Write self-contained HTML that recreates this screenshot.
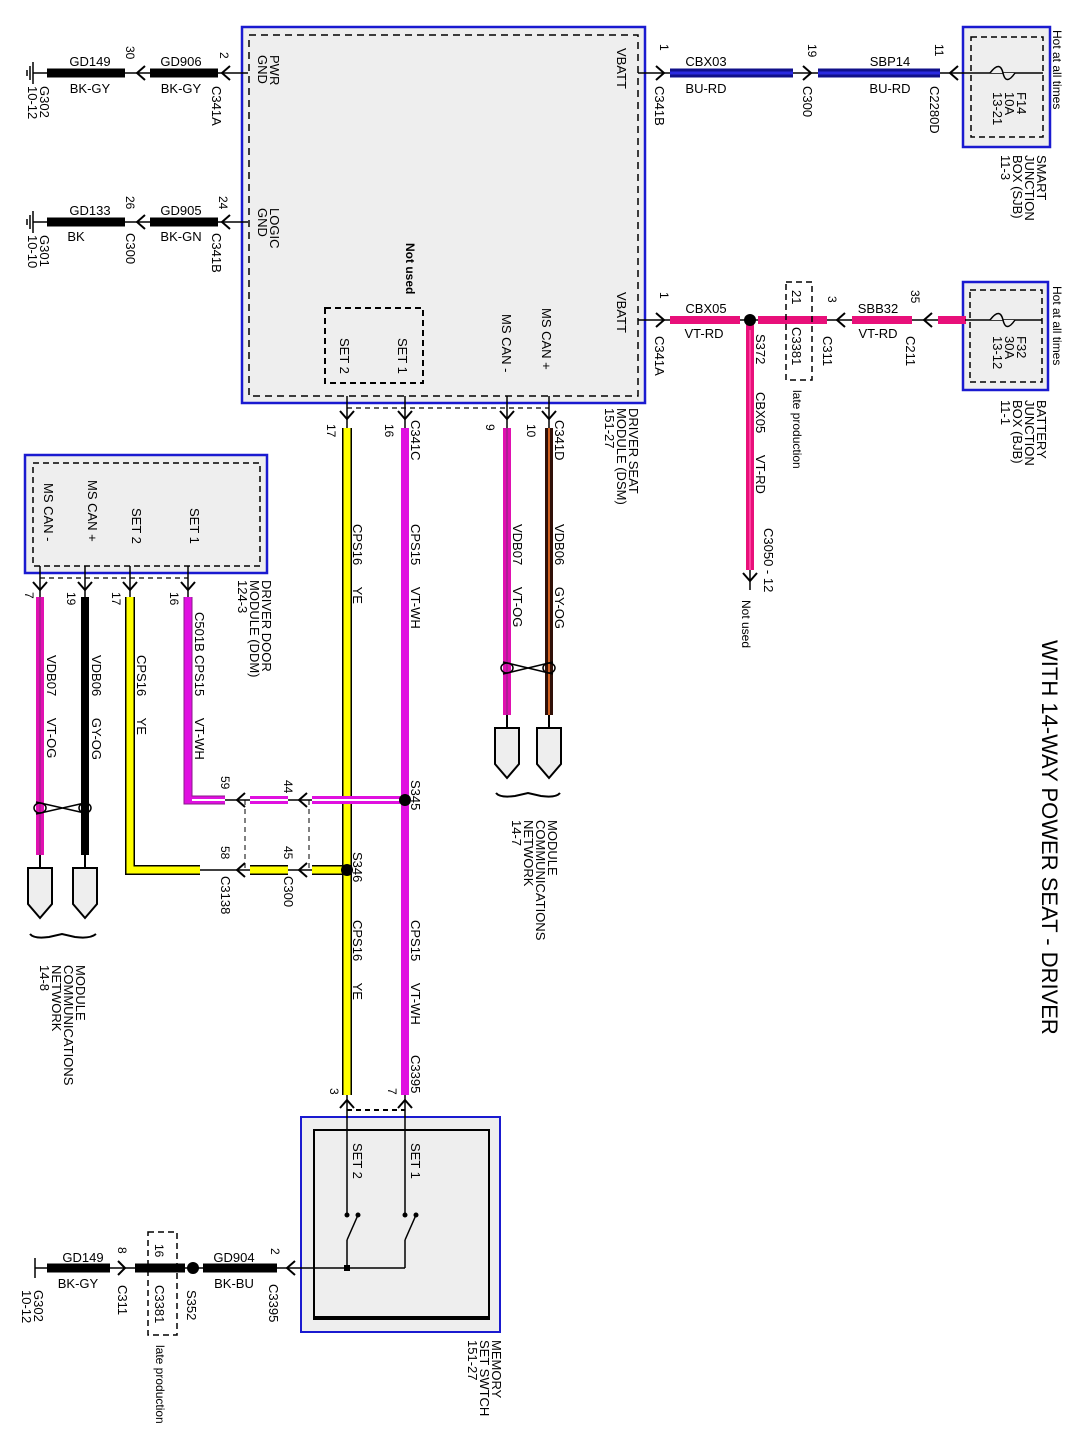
<!DOCTYPE html>
<html><head><meta charset="utf-8"><style>
html,body{margin:0;padding:0;background:#fff}
svg{display:block}
text{font-family:"Liberation Sans",Arial,sans-serif;font-size:13px;fill:#000;white-space:pre}
.s{font-size:12px}
.n{font-size:12px}
.ch{fill:none;stroke:#000;stroke-width:2}
</style></head><body>
<svg width="1078" height="1452" viewBox="0 0 1078 1452" xmlns="http://www.w3.org/2000/svg" xml:space="preserve">
<!-- DSM box -->
<rect x="242" y="27" width="403" height="376" fill="#eeeeee" stroke="#1a1ad0" stroke-width="2.5"/>
<rect x="249" y="35" width="389" height="361" fill="none" stroke="#000" stroke-width="1.5" stroke-dasharray="7,5"/>
<rect x="325" y="308" width="98" height="75" fill="none" stroke="#000" stroke-width="2" stroke-dasharray="6,4"/>

<!-- SJB / BJB -->
<rect x="963" y="27" width="87" height="120" fill="#eeeeee" stroke="#1a1ad0" stroke-width="2.5"/>
<rect x="971" y="37" width="72" height="100" fill="none" stroke="#000" stroke-width="1.5" stroke-dasharray="6,4"/>
<rect x="963" y="282" width="85" height="108" fill="#eeeeee" stroke="#1a1ad0" stroke-width="2.5"/>
<rect x="970" y="290" width="72" height="92" fill="none" stroke="#000" stroke-width="1.5" stroke-dasharray="6,4"/>

<!-- DDM box -->
<rect x="25" y="455" width="242" height="118" fill="#eeeeee" stroke="#1a1ad0" stroke-width="2.5"/>
<rect x="33" y="463" width="227" height="103" fill="none" stroke="#000" stroke-width="1.5" stroke-dasharray="6,4"/>

<!-- Memory switch -->
<rect x="301" y="1117" width="199" height="215" fill="#eeeeee" stroke="#1a1ad0" stroke-width="2"/>
<rect x="314" y="1130" width="175" height="189" fill="none" stroke="#000" stroke-width="2"/>
<line x1="314" y1="1318" x2="489" y2="1318" stroke="#000" stroke-width="4"/>

<!-- ===== top-left ground wires ===== -->
<g stroke="#000">
<line x1="33" y1="73" x2="248" y2="73" stroke-width="1.5"/>
<line x1="47" y1="73" x2="125" y2="73" stroke-width="9"/>
<line x1="150" y1="73" x2="218" y2="73" stroke-width="9"/>
<line x1="33" y1="62" x2="33" y2="84" stroke-width="1.5"/>
<line x1="30" y1="66" x2="30" y2="80" stroke-width="1.5"/>
<line x1="27" y1="70" x2="27" y2="76" stroke-width="1.5"/>
<line x1="33" y1="222" x2="248" y2="222" stroke-width="1.5"/>
<line x1="47" y1="222" x2="125" y2="222" stroke-width="9"/>
<line x1="150" y1="222" x2="218" y2="222" stroke-width="9"/>
<line x1="33" y1="211" x2="33" y2="233" stroke-width="1.5"/>
<line x1="30" y1="215" x2="30" y2="229" stroke-width="1.5"/>
<line x1="27" y1="219" x2="27" y2="225" stroke-width="1.5"/>
</g>
<path class="ch" d="M145 66 L137 73 L145 80 M230 66 L222 73 L230 80 M145 215 L137 222 L145 229 M230 215 L222 222 L230 229"/>

<!-- ===== top-right VBATT wire ===== -->
<line x1="638" y1="73" x2="965" y2="73" stroke="#000" stroke-width="1.5"/>
<line x1="670" y1="73" x2="793" y2="73" stroke="#10108a" stroke-width="9"/>
<line x1="670" y1="73" x2="793" y2="73" stroke="#2a2ae0" stroke-width="3"/>
<line x1="818" y1="73" x2="940" y2="73" stroke="#10108a" stroke-width="9"/>
<line x1="818" y1="73" x2="940" y2="73" stroke="#2a2ae0" stroke-width="3"/>
<path class="ch" d="M656 66 L664 73 L656 80 M803 66 L811 73 L803 80 M958 66 L950 73 L958 80"/>
<line x1="965" y1="73" x2="1043" y2="73" stroke="#000" stroke-width="1.5"/>
<path d="M990 73 Q1000 60 1003 73 Q1006 86 1015 73" fill="#eeeeee" stroke="#000" stroke-width="1.5"/>

<!-- ===== second VBATT wire ===== -->
<line x1="638" y1="320" x2="965" y2="320" stroke="#000" stroke-width="1.5"/>
<g stroke="#e8107a" stroke-width="8">
<line x1="670" y1="320" x2="740" y2="320"/>
<line x1="758" y1="320" x2="827" y2="320"/>
<line x1="852" y1="320" x2="912" y2="320"/>
<line x1="938" y1="320" x2="966" y2="320"/>
<line x1="750" y1="320" x2="750" y2="570"/>
</g>
<line x1="750" y1="330" x2="750" y2="570" stroke="#ff40a0" stroke-width="2"/>
<circle cx="750" cy="320" r="6" fill="#000"/>
<rect x="786" y="282" width="26" height="98" fill="none" stroke="#000" stroke-width="1.5" stroke-dasharray="6,4"/>
<path class="ch" d="M656 313 L664 320 L656 327 M845 313 L837 320 L845 327 M932 313 L924 320 L932 327"/>
<line x1="965" y1="320" x2="1042" y2="320" stroke="#000" stroke-width="1.5"/>
<path d="M990 320 Q1000 307 1003 320 Q1006 333 1015 320" fill="#eeeeee" stroke="#000" stroke-width="1.5"/>
<line x1="750" y1="570" x2="750" y2="590" stroke="#000" stroke-width="1.5"/>
<path class="ch" d="M743 573 L750 581 L757 573"/>

<!-- ===== DSM bottom pins ===== -->
<g stroke="#000" stroke-width="1.5">
<line x1="347" y1="396" x2="347" y2="430"/>
<line x1="405" y1="396" x2="405" y2="430"/>
<line x1="507" y1="396" x2="507" y2="430"/>
<line x1="549" y1="396" x2="549" y2="430"/>
</g>
<path d="M347 408 H549" stroke="#000" stroke-width="1.2" stroke-dasharray="5,4" fill="none"/>
<path class="ch" d="M340 411 L347 419 L354 411 M398 411 L405 419 L412 411 M500 411 L507 419 L514 411 M542 411 L549 419 L556 411"/>

<line x1="347" y1="428" x2="347" y2="1095" stroke="#000" stroke-width="10"/>
<line x1="347" y1="428" x2="347" y2="1095" stroke="#ffff00" stroke-width="7"/>
<line x1="405" y1="428" x2="405" y2="1095" stroke="#e010e0" stroke-width="8"/>
<line x1="507" y1="428" x2="507" y2="715" stroke="#e010b0" stroke-width="8"/>
<line x1="507" y1="428" x2="507" y2="715" stroke="#a0208a" stroke-width="1.5"/>
<line x1="549" y1="428" x2="549" y2="715" stroke="#301008" stroke-width="8"/>
<line x1="549" y1="428" x2="549" y2="715" stroke="#d06020" stroke-width="2"/>
<path d="M503 662 L553 674 M503 674 L553 662" stroke="#000" stroke-width="1.5" fill="none"/>
<ellipse cx="507" cy="668" rx="6" ry="5" fill="none" stroke="#000" stroke-width="1.5"/>
<ellipse cx="549" cy="668" rx="6" ry="5" fill="none" stroke="#000" stroke-width="1.5"/>
<g fill="#eeeeee" stroke="#000" stroke-width="2">
<line x1="507" y1="715" x2="507" y2="728"/><line x1="549" y1="715" x2="549" y2="728"/>
<path d="M495 728 H519 V764 L507 778 L495 764 Z"/>
<path d="M537 728 H561 V764 L549 778 L537 764 Z"/>
</g>
<path d="M496 793 Q500 798 515 796 L528 793 L541 796 Q556 798 560 793" fill="none" stroke="#000" stroke-width="2"/>

<!-- ===== DDM wires ===== -->
<g stroke="#000" stroke-width="1.5">
<line x1="40" y1="566" x2="40" y2="598"/>
<line x1="85" y1="566" x2="85" y2="598"/>
<line x1="130" y1="566" x2="130" y2="598"/>
<line x1="188" y1="566" x2="188" y2="598"/>
</g>
<path d="M40 578 H188" stroke="#000" stroke-width="1.2" stroke-dasharray="5,4" fill="none"/>
<path class="ch" d="M33 582 L40 590 L47 582 M78 582 L85 590 L92 582 M123 582 L130 590 L137 582 M181 582 L188 590 L195 582"/>
<line x1="40" y1="597" x2="40" y2="855" stroke="#e010b0" stroke-width="8"/>
<line x1="40" y1="597" x2="40" y2="855" stroke="#a0208a" stroke-width="1.5"/>
<line x1="85" y1="597" x2="85" y2="855" stroke="#000" stroke-width="8"/>
<path d="M36 802 L89 814 M36 814 L89 802" stroke="#000" stroke-width="1.5" fill="none"/>
<ellipse cx="40" cy="808" rx="6" ry="5" fill="none" stroke="#000" stroke-width="1.5"/>
<ellipse cx="85" cy="808" rx="6" ry="5" fill="none" stroke="#000" stroke-width="1.5"/>
<g fill="#eeeeee" stroke="#000" stroke-width="2">
<line x1="40" y1="855" x2="40" y2="868"/><line x1="85" y1="855" x2="85" y2="868"/>
<path d="M28 868 H52 V904 L40 918 L28 904 Z"/>
<path d="M73 868 H97 V904 L85 918 L73 904 Z"/>
</g>
<path d="M30 934 Q34 939 49 937 L62 934 L75 937 Q90 939 96 934" fill="none" stroke="#000" stroke-width="2"/>

<path d="M130 597 V870 H200" fill="none" stroke="#000" stroke-width="10"/>
<path d="M130 597 V870 H200" fill="none" stroke="#ffff00" stroke-width="7"/>
<line x1="250" y1="870" x2="288" y2="870" stroke="#000" stroke-width="10"/>
<line x1="250" y1="870" x2="288" y2="870" stroke="#ffff00" stroke-width="7"/>
<line x1="312" y1="870" x2="347" y2="870" stroke="#000" stroke-width="10"/>
<line x1="312" y1="870" x2="347" y2="870" stroke="#ffff00" stroke-width="7"/>
<line x1="200" y1="870" x2="250" y2="870" stroke="#000" stroke-width="1.5"/>
<line x1="288" y1="870" x2="312" y2="870" stroke="#000" stroke-width="1.5"/>
<path d="M188 597 V800 H225" fill="none" stroke="#8a1a8a" stroke-width="9"/>
<path d="M188 597 V800 H225" fill="none" stroke="#e010e0" stroke-width="7"/>
<line x1="192" y1="800" x2="225" y2="800" stroke="#fff" stroke-width="2"/>
<line x1="250" y1="800" x2="288" y2="800" stroke="#e010e0" stroke-width="8"/>
<line x1="250" y1="800" x2="288" y2="800" stroke="#fff" stroke-width="2"/>
<line x1="312" y1="800" x2="400" y2="800" stroke="#e010e0" stroke-width="8"/>
<line x1="312" y1="800" x2="400" y2="800" stroke="#fff" stroke-width="2"/>
<line x1="225" y1="800" x2="250" y2="800" stroke="#000" stroke-width="1.5"/>
<line x1="288" y1="800" x2="312" y2="800" stroke="#000" stroke-width="1.5"/>
<path class="ch" d="M245 793 L237 800 L245 807 M307 793 L299 800 L307 807 M245 863 L237 870 L245 877 M307 863 L299 870 L307 877"/>
<path d="M245 800 V870 M309 800 V870" stroke="#000" stroke-width="1" stroke-dasharray="5,4"/>
<circle cx="405" cy="800" r="6" fill="#000"/>
<circle cx="347" cy="870" r="6" fill="#000"/>

<!-- ===== Memory switch wiring ===== -->
<g stroke="#000" stroke-width="1.5" fill="none">
<line x1="347" y1="1095" x2="347" y2="1215"/>
<line x1="405" y1="1095" x2="405" y2="1215"/>
<path d="M347 1110 H405" stroke-dasharray="5,4" stroke-width="2"/>
<line x1="347" y1="1240" x2="347" y2="1268"/>
<line x1="405" y1="1240" x2="405" y2="1268"/>
<line x1="290" y1="1268" x2="405" y2="1268"/>
<line x1="347" y1="1240" x2="358" y2="1215"/>
<line x1="405" y1="1240" x2="416" y2="1215"/>
</g>
<path class="ch" d="M340 1108 L347 1100 L354 1108 M398 1108 L405 1100 L412 1108"/>
<g fill="#000">
<circle cx="347" cy="1215" r="2.5"/><circle cx="358" cy="1215" r="2.5"/>
<circle cx="405" cy="1215" r="2.5"/><circle cx="416" cy="1215" r="2.5"/>
<rect x="344" y="1265" width="6" height="6"/>
</g>
<g stroke="#000">
<line x1="35" y1="1268" x2="290" y2="1268" stroke-width="1.5"/>
<line x1="47" y1="1268" x2="110" y2="1268" stroke-width="9"/>
<line x1="135" y1="1268" x2="185" y2="1268" stroke-width="9"/>
<line x1="203" y1="1268" x2="277" y2="1268" stroke-width="9"/>
<line x1="35" y1="1258" x2="35" y2="1278" stroke-width="1.5"/>
</g>
<circle cx="193" cy="1268" r="6" fill="#000"/>
<rect x="148" y="1232" width="29" height="103" fill="none" stroke="#000" stroke-width="1.5" stroke-dasharray="6,4"/>
<path class="ch" d="M118 1261 L125 1268 L118 1275 M295 1261 L287 1268 L295 1275"/>

<!-- ===== horizontal wire labels ===== -->
<g text-anchor="middle">
<text x="90" y="66">GD149</text><text x="90" y="93">BK-GY</text>
<text x="181" y="66">GD906</text><text x="181" y="93">BK-GY</text>
<text x="90" y="215">GD133</text><text x="76" y="241">BK</text>
<text x="181" y="215">GD905</text><text x="181" y="241">BK-GN</text>
<text x="706" y="66">CBX03</text><text x="706" y="93">BU-RD</text>
<text x="890" y="66">SBP14</text><text x="890" y="93">BU-RD</text>
<text x="706" y="313">CBX05</text><text x="704" y="338">VT-RD</text>
<text x="878" y="313">SBB32</text><text x="878" y="338">VT-RD</text>
<text x="83" y="1262">GD149</text><text x="78" y="1288">BK-GY</text>
<text x="234" y="1262">GD904</text><text x="234" y="1288">BK-BU</text>
</g>

<!-- ===== rotated labels ===== -->
<g>
<text transform="translate(126,46) rotate(90)" class="n">30</text>
<text transform="translate(220,52) rotate(90)" class="n">2</text>
<text transform="translate(212,86) rotate(90)">C341A</text>
<text transform="translate(40,86) rotate(90)">G302</text>
<text transform="translate(28,86) rotate(90)">10-12</text>
<text transform="translate(270,55) rotate(90)">PWR</text>
<text transform="translate(258,55) rotate(90)">GND</text>
<text transform="translate(126,196) rotate(90)" class="n">26</text>
<text transform="translate(219,196) rotate(90)" class="n">24</text>
<text transform="translate(126,233) rotate(90)">C300</text>
<text transform="translate(212,233) rotate(90)">C341B</text>
<text transform="translate(40,235) rotate(90)">G301</text>
<text transform="translate(28,235) rotate(90)">10-10</text>
<text transform="translate(270,208) rotate(90)">LOGIC</text>
<text transform="translate(258,208) rotate(90)">GND</text>
<text transform="translate(406,243) rotate(90)" style="font-weight:bold" class="s">Not used</text>
<text transform="translate(398,338) rotate(90)">SET 1</text>
<text transform="translate(340,338) rotate(90)">SET 2</text>
<text transform="translate(542,308) rotate(90)">MS CAN +</text>
<text transform="translate(502,314) rotate(90)">MS CAN -</text>
<text transform="translate(617,48) rotate(90)">VBATT</text>
<text transform="translate(617,292) rotate(90)">VBATT</text>
<text transform="translate(660,44) rotate(90)" class="n">1</text>
<text transform="translate(655,86) rotate(90)">C341B</text>
<text transform="translate(808,44) rotate(90)" class="n">19</text>
<text transform="translate(803,86) rotate(90)">C300</text>
<text transform="translate(935,44) rotate(90)" class="n">11</text>
<text transform="translate(930,86) rotate(90)">C2280D</text>
<text transform="translate(1017,92) rotate(90)">F14</text>
<text transform="translate(1005,92) rotate(90)">10A</text>
<text transform="translate(993,92) rotate(90)">13-21</text>
<text transform="translate(1053,30) rotate(90)" class="s">Hot at all times</text>
<text transform="translate(1037,155) rotate(90)">SMART</text>
<text transform="translate(1025,155) rotate(90)">JUNCTION</text>
<text transform="translate(1013,155) rotate(90)">BOX (SJB)</text>
<text transform="translate(1001,155) rotate(90)">11-3</text>
<text transform="translate(660,292) rotate(90)" class="n">1</text>
<text transform="translate(655,336) rotate(90)">C341A</text>
<text transform="translate(756,334) rotate(90)">S372</text>
<text transform="translate(792,290) rotate(90)">21</text>
<text transform="translate(792,327) rotate(90)">C3381</text>
<text transform="translate(828,296) rotate(90)" class="n">3</text>
<text transform="translate(823,336) rotate(90)">C311</text>
<text transform="translate(911,290) rotate(90)" class="n">35</text>
<text transform="translate(906,336) rotate(90)">C211</text>
<text transform="translate(1017,336) rotate(90)">F32</text>
<text transform="translate(1005,336) rotate(90)">30A</text>
<text transform="translate(993,336) rotate(90)">13-12</text>
<text transform="translate(1053,286) rotate(90)" class="s">Hot at all times</text>
<text transform="translate(1037,400) rotate(90)">BATTERY</text>
<text transform="translate(1025,400) rotate(90)">JUNCTION</text>
<text transform="translate(1013,400) rotate(90)">BOX (BJB)</text>
<text transform="translate(1001,400) rotate(90)">11-1</text>
<text transform="translate(793,390) rotate(90)" class="s">late production</text>
<text transform="translate(756,392) rotate(90)">CBX05      VT-RD</text>
<text transform="translate(764,528) rotate(90)">C3050 - 12</text>
<text transform="translate(742,600) rotate(90)" class="s">Not used</text>
<text transform="translate(629,408) rotate(90)">DRIVER SEAT</text>
<text transform="translate(617,408) rotate(90)">MODULE (DSM)</text>
<text transform="translate(605,408) rotate(90)">151-27</text>
<text transform="translate(555,420) rotate(90)">C341D</text>
<text transform="translate(527,424) rotate(90)" class="n">10</text>
<text transform="translate(486,424) rotate(90)" class="n">9</text>
<text transform="translate(411,420) rotate(90)">C341C</text>
<text transform="translate(385,424) rotate(90)" class="n">16</text>
<text transform="translate(327,424) rotate(90)" class="n">17</text>
<text transform="translate(555,524) rotate(90)">VDB06      GY-OG</text>
<text transform="translate(513,524) rotate(90)">VDB07      VT-OG</text>
<text transform="translate(411,524) rotate(90)">CPS15      VT-WH</text>
<text transform="translate(353,524) rotate(90)">CPS16      YE</text>
<text transform="translate(548,820) rotate(90)">MODULE</text>
<text transform="translate(536,820) rotate(90)">COMMUNICATIONS</text>
<text transform="translate(524,820) rotate(90)">NETWORK</text>
<text transform="translate(512,820) rotate(90)">14-7</text>
<text transform="translate(411,780) rotate(90)">S345</text>
<text transform="translate(353,852) rotate(90)">S346</text>
<text transform="translate(221,776) rotate(90)" class="n">59</text>
<text transform="translate(284,780) rotate(90)" class="n">44</text>
<text transform="translate(221,846) rotate(90)" class="n">58</text>
<text transform="translate(284,846) rotate(90)" class="n">45</text>
<text transform="translate(221,876) rotate(90)">C3138</text>
<text transform="translate(284,876) rotate(90)">C300</text>
<text transform="translate(411,920) rotate(90)">CPS15      VT-WH</text>
<text transform="translate(353,920) rotate(90)">CPS16      YE</text>
<text transform="translate(411,1055) rotate(90)">C3395</text>
<text transform="translate(388,1088) rotate(90)" class="n">7</text>
<text transform="translate(330,1088) rotate(90)" class="n">3</text>
<text transform="translate(411,1143) rotate(90)">SET 1</text>
<text transform="translate(353,1143) rotate(90)">SET 2</text>
<text transform="translate(271,1248) rotate(90)" class="n">2</text>
<text transform="translate(269,1284) rotate(90)">C3395</text>
<text transform="translate(187,1290) rotate(90)">S352</text>
<text transform="translate(155,1244) rotate(90)" class="n">16</text>
<text transform="translate(155,1285) rotate(90)">C3381</text>
<text transform="translate(118,1247) rotate(90)" class="n">8</text>
<text transform="translate(118,1285) rotate(90)">C311</text>
<text transform="translate(34,1290) rotate(90)">G302</text>
<text transform="translate(22,1290) rotate(90)">10-12</text>
<text transform="translate(156,1345) rotate(90)" class="s">late production</text>
<text transform="translate(492,1340) rotate(90)">MEMORY</text>
<text transform="translate(480,1340) rotate(90)">SET SWTCH</text>
<text transform="translate(468,1340) rotate(90)">151-27</text>
<text transform="translate(44,483) rotate(90)">MS CAN -</text>
<text transform="translate(88,480) rotate(90)">MS CAN +</text>
<text transform="translate(132,508) rotate(90)">SET 2</text>
<text transform="translate(190,508) rotate(90)">SET 1</text>
<text transform="translate(262,580) rotate(90)">DRIVER DOOR</text>
<text transform="translate(250,580) rotate(90)">MODULE (DDM)</text>
<text transform="translate(238,580) rotate(90)">124-3</text>
<text transform="translate(170,592) rotate(90)" class="n">16</text>
<text transform="translate(195,612) rotate(90)">C501B</text>
<text transform="translate(112,592) rotate(90)" class="n">17</text>
<text transform="translate(67,592) rotate(90)" class="n">19</text>
<text transform="translate(25,592) rotate(90)" class="n">7</text>
<text transform="translate(195,655) rotate(90)">CPS15      VT-WH</text>
<text transform="translate(137,655) rotate(90)">CPS16      YE</text>
<text transform="translate(92,655) rotate(90)">VDB06      GY-OG</text>
<text transform="translate(47,655) rotate(90)">VDB07      VT-OG</text>
<text transform="translate(76,965) rotate(90)">MODULE</text>
<text transform="translate(64,965) rotate(90)">COMMUNICATIONS</text>
<text transform="translate(52,965) rotate(90)">NETWORK</text>
<text transform="translate(40,965) rotate(90)">14-8</text>
<text transform="translate(1042,640) rotate(90)" style="font-size:22px">WITH 14-WAY POWER SEAT - DRIVER</text>
</g>
</svg>
</body></html>
